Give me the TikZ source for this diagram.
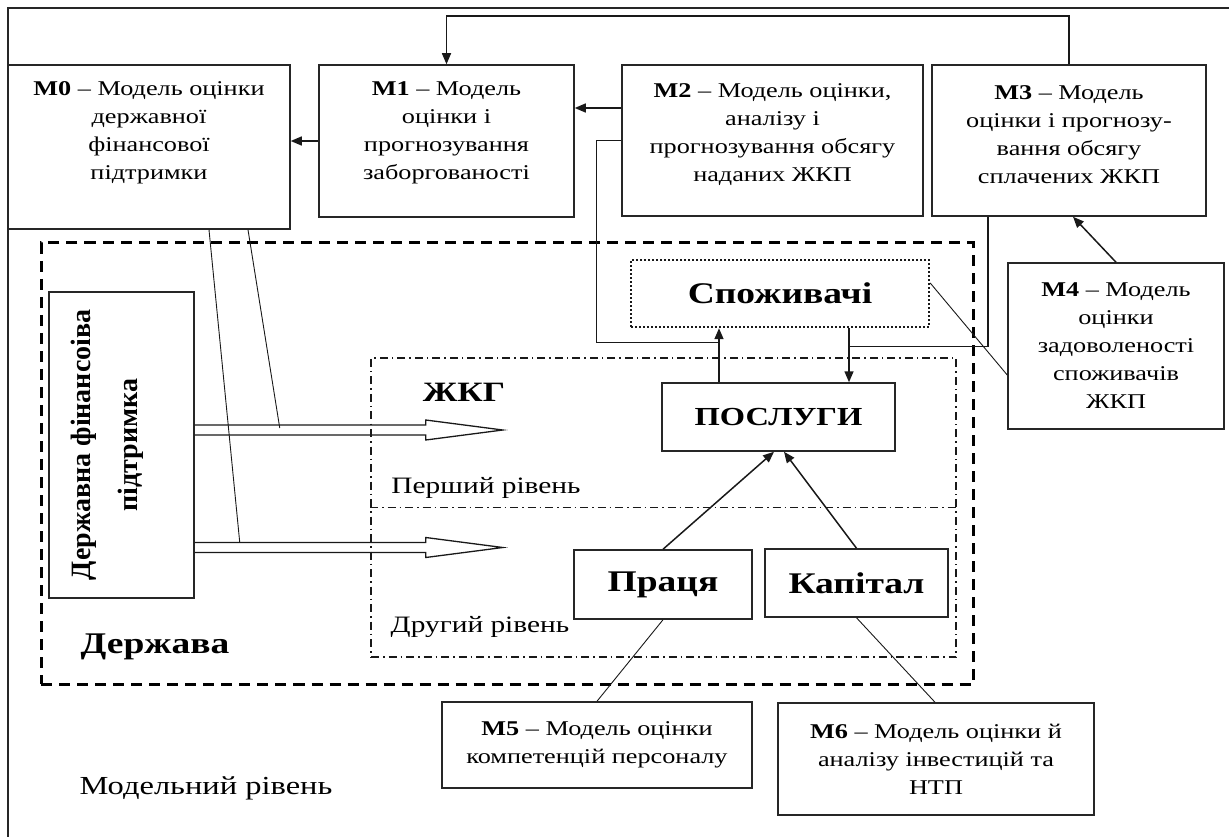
\documentclass[tikz,border=0pt]{standalone}
\usepackage{fontspec}
\setmainfont{Liberation Serif}[FakeStretch=1.25]
\newfontfamily\vserif{Liberation Serif}
\usetikzlibrary{arrows.meta}
\newcommand\bodyfs{\fontsize{21bp}{28bp}\selectfont}
\newcommand\bigfs{\fontsize{30bp}{36bp}\selectfont\bfseries}
\begin{document}
\begin{tikzpicture}[x=1bp,y=-1bp,
  box/.style={draw=black!85,line width=1.5bp,rectangle,inner sep=0pt},
  txt/.style={font=\bodyfs,align=center,inner sep=0pt},
  bigtxt/.style={font=\bigfs,align=center,inner sep=0pt},
  leveltxt/.style={font=\fontsize{23.5bp}{28bp}\selectfont,inner sep=0pt},
  conn/.style={draw=black!90,line width=1.5bp},
  arr/.style={conn,-{Triangle[length=11bp,width=9bp]}},
  thinline/.style={draw=black!90,line width=0.9bp},
  dashbig/.style={draw=black,line width=3bp,dash pattern=on 11bp off 7bp},
  dashdotbox/.style={draw=black!90,line width=1.6bp,dash pattern=on 8bp off 4bp on 1.5bp off 4bp},
  dotbox/.style={draw=black!90,line width=2.4bp,dash pattern=on 2bp off 2bp},
  hollow/.pic={\draw[draw=black!90,line width=1.3bp] (0,-5) -- (231,-5) -- (231,-10) -- (308,0) -- (231,10) -- (231,5) -- (0,5);}
]
\useasboundingbox (0,0) rectangle (1229,837);
% outer frame
\draw[line width=1.5bp,draw=black!85] (8,837) -- (8,8) -- (1229,8);

% region boxes
\node[dashbig,rectangle,minimum width=931.5bp,minimum height=441bp,inner sep=0pt] (derzh) at (507.25,463.5) {};
\node[dashdotbox,rectangle,minimum width=585bp,minimum height=299bp,inner sep=0pt] (zhkg) at (663.5,507.5) {};
\draw[dashdotbox] (zhkg.west) -- (zhkg.east);

% model boxes
\node[box,minimum width=282bp,minimum height=164bp] (m0) at (149,147) {};
\node[txt] (m0t) at ([yshift=14bp]m0.center) {\textbf{M0} – Модель оцінки\\державної\\фінансової\\підтримки};
\node[box,minimum width=255bp,minimum height=152bp] (m1) at (446.5,141) {};
\node[txt] (m1t) at ([yshift=8bp]m1.center) {\textbf{M1} – Модель\\оцінки і\\прогнозування\\заборгованості};
\node[box,minimum width=301bp,minimum height=151bp] (m2) at (772.5,140.5) {};
\node[txt] (m2t) at ([yshift=6bp]m2.center) {\textbf{M2} – Модель оцінки,\\аналізу і\\прогнозування обсягу\\наданих ЖКП};
\node[box,minimum width=274bp,minimum height=151bp] (m3) at (1069,140.5) {};
\node[txt] (m3t) at ([yshift=6bp]m3.center) {\textbf{M3} – Модель\\оцінки і прогнозу-\\вання обсягу\\сплачених ЖКП};
\node[box,minimum width=216bp,minimum height=166bp,txt] (m4) at (1116,346) {\textbf{M4} – Модель\\оцінки\\задоволеності\\споживачів\\ЖКП};
\node[box,minimum width=310bp,minimum height=86bp,txt] (m5) at (597,745) {\textbf{M5} – Модель оцінки\\компетенцій персоналу};
\node[box,minimum width=316bp,minimum height=112bp,txt] (m6) at (936,759) {\textbf{M6} – Модель оцінки й\\аналізу інвестицій та\\НТП};

% inner boxes
\node[box,minimum width=145bp,minimum height=306bp] (dfp) at (121.5,445) {};
\node[inner sep=0pt,align=center,rotate=90,font=\vserif\fontsize{28bp}{47bp}\selectfont\bfseries] (dfpt) at ([xshift=-14bp]dfp.center) {Державна фінансоіва\\підтримка};
\node[dotbox,rectangle,minimum width=298bp,minimum height=67bp,bigtxt] (spoz) at (780,293.5) {Споживачі};
\node[box,minimum width=233bp,minimum height=68bp,bigtxt,font=\fontsize{26bp}{30bp}\selectfont\bfseries] (posl) at (778.5,417) {ПОСЛУГИ};
\node[box,minimum width=178bp,minimum height=69bp,bigtxt] (prac) at (663,584.5) {Праця};
\node[box,minimum width=183bp,minimum height=68bp,bigtxt] (kap) at (856.5,583) {Капітал};

% labels
\node[bigtxt,font=\fontsize{28bp}{32bp}\selectfont\bfseries] (zhkgl) at (464,392) {ЖКГ};
\node[leveltxt] (lev1) at (486,488) {Перший рівень};
\node[leveltxt] (lev2) at (480,627) {Другий рівень};
\node[bigtxt] (derzhl) at (155,647) {Держава};
\node[inner sep=0pt,font=\fontsize{26bp}{30bp}\selectfont] (modl) at (206,788) {Модельний рівень};

% hollow arrows
\coordinate (ha) at ([yshift=15bp]dfp.east);
\coordinate (hb) at ([yshift=-102.5bp]dfp.east);
\pic at (ha) {hollow};
\pic at (hb) {hollow};

% connectors
\draw[arr] (m3.north) -- ++(0,-48) -| (m1.north);
\draw[arr] (m1.west) -- (m1.west -| m0.east);
\coordinate (a2) at ([yshift=32.5bp]m2.west);
\draw[arr] (a2) -- (a2 -| m1.east);

\coordinate (pu) at ([xshift=-59.5bp]posl.north);
\coordinate (pd) at ([xshift=70.5bp]posl.north);
\draw[arr] (pu) -- (pu |- spoz.south);
\draw[arr] (pd |- spoz.south) -- (pd);
\coordinate (j1) at ([yshift=40bp]pu);
\coordinate (j2) at ([yshift=36bp]pd);
\draw[conn] (m2.west) -- ++(-25,0) |- (j1);
\draw[conn] ([xshift=-81bp]m3.south) |- (j2);

\draw[arr] (m4.north) -- ([xshift=4bp]m3.south);
\draw[thinline] ([yshift=10.5bp]spoz.east) -- ([yshift=-29bp]m4.west);

\draw[arr] (prac.north) -- ([xshift=-4.5bp]posl.south);
\draw[arr] (kap.north) -- ([xshift=5.5bp]posl.south);
\draw[thinline] (prac.south) -- (m5.north);
\draw[thinline] (kap.south) -- ([xshift=-1bp]m6.north);

\draw[thinline] ([xshift=60bp]m0.south) -- ([xshift=45bp,yshift=5bp]hb);
\draw[thinline] ([xshift=99bp]m0.south) -- ([xshift=85bp,yshift=2bp]ha);
\end{tikzpicture}
\end{document}
